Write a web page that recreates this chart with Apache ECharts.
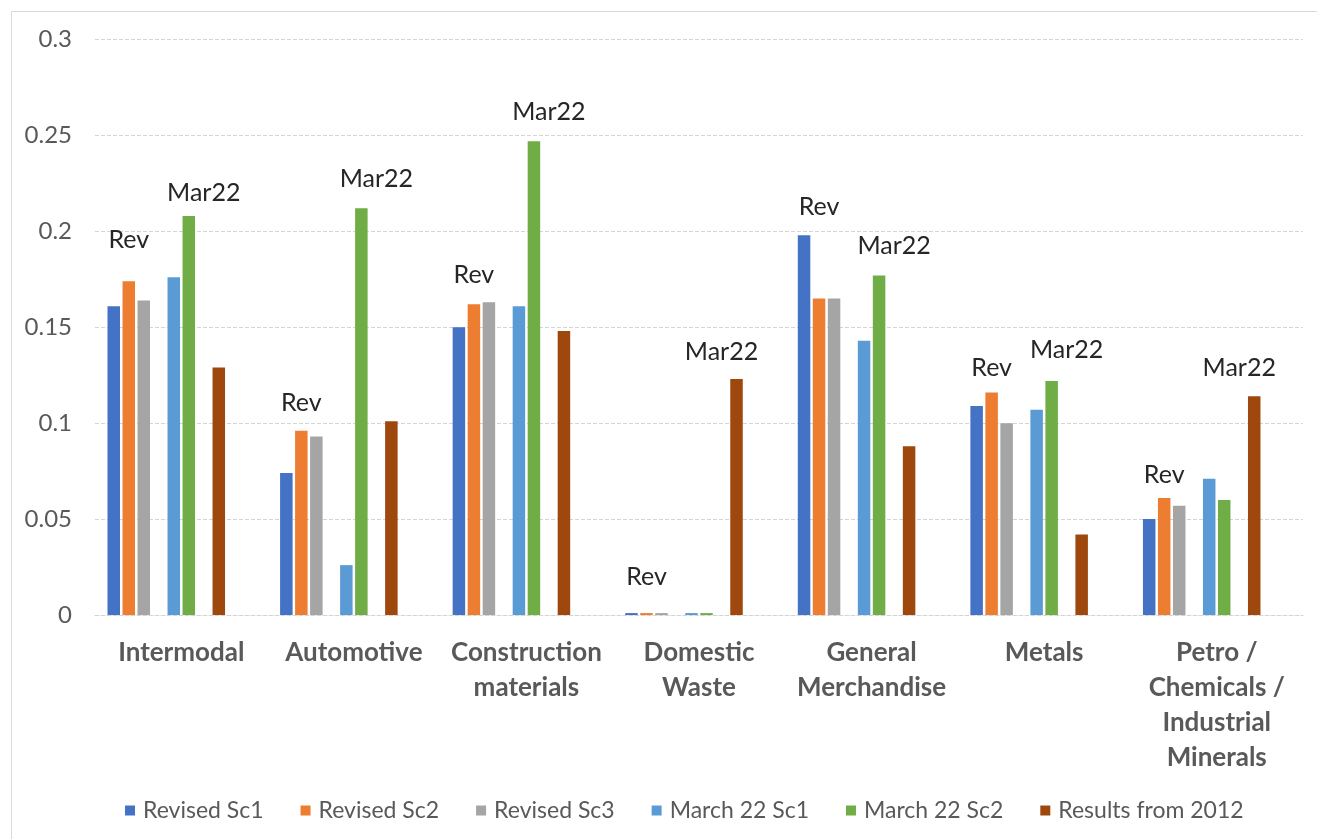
<!DOCTYPE html>
<html>
<head>
<meta charset="utf-8">
<script src="https://cdn.jsdelivr.net/npm/echarts@6/dist/echarts.min.js"></script>
<style>
  html, body { margin: 0; padding: 0; background: #ffffff; }
  #chart { width: 1317px; height: 839px; }
</style>
</head>
<body>
<div id="chart"></div>
<script>
// ---- data ----
var categories = ['Intermodal', 'Automotive', 'Construction materials', 'Domestic Waste',
                  'General Merchandise', 'Metals', 'Petro / Chemicals / Industrial Minerals'];
var categoryLabels = ['Intermodal', 'Automotive', 'Construction\nmaterials', 'Domestic\nWaste',
                      'General\nMerchandise', 'Metals', 'Petro /\nChemicals /\nIndustrial\nMinerals'];
var yTickLabels = ['0', '0.05', '0.1', '0.15', '0.2', '0.25', '0.3'];

var revisedSc1   = [0.161, 0.074, 0.150, 0.001, 0.198, 0.109, 0.050];
var revisedSc2   = [0.174, 0.096, 0.162, 0.001, 0.165, 0.116, 0.061];
var revisedSc3   = [0.164, 0.093, 0.163, 0.001, 0.165, 0.100, 0.057];
var march22Sc1   = [0.176, 0.026, 0.161, 0.001, 0.143, 0.107, 0.071];
var march22Sc2   = [0.208, 0.212, 0.247, 0.001, 0.177, 0.122, 0.060];
var results2012  = [0.129, 0.101, 0.148, 0.123, 0.088, 0.042, 0.114];

// annotation text and the value at which each annotation is centred
var revText = 'Rev';
var marText = 'Mar22';
var revLabelAt = [0.1955, 0.1107, 0.1773, 0.0198, 0.2129, 0.1286, 0.0730];
var marLabelAt = [0.2202, 0.2272, 0.2623, 0.1370, 0.1924, 0.1382, 0.1286];

var seriesNames = ['Revised Sc1', 'Revised Sc2', 'Revised Sc3', 'March 22 Sc1', 'March 22 Sc2', 'Results from 2012'];
var seriesColors = ['#4472C4', '#ED7D31', '#A5A5A5', '#5B9BD5', '#70AD47', '#9E480E'];

// ---- chart ----
var chart = echarts.init(document.getElementById('chart'), null, { renderer: 'canvas' });

var FONT = 'Lato, "Open Sans", sans-serif';
var gridLine = { color: '#d4d4d4', width: 1, type: [4, 2] };

function annot(text, arr) {
  return {
    symbol: 'circle',
    symbolSize: 1,
    itemStyle: { color: 'rgba(0,0,0,0)' },
    label: {
      show: true,
      position: 'inside',
      formatter: text,
      color: '#262626',
      fontFamily: FONT,
      fontSize: 25
    },
    data: arr.map(function (v, i) { return { coord: [i, v] }; })
  };
}

function barSeries(name, data, color, extra) {
  var s = {
    name: name,
    type: 'bar',
    data: data,
    barGap: '20%',
    barCategoryGap: '14.5%',
    itemStyle: { color: color },
    emphasis: { disabled: true }
  };
  if (extra) { for (var k in extra) s[k] = extra[k]; }
  return s;
}

function blank(name, extra) {
  return barSeries(name, categories.map(function () { return null; }), 'rgba(0,0,0,0)', extra);
}

var option = {
  animation: false,
  backgroundColor: '#ffffff',
  textStyle: { fontFamily: FONT },
  graphic: [{
    type: 'rect',
    silent: true,
    shape: { x: 11.5, y: 11.5, width: 1400, height: 1000 },
    style: { fill: 'none', stroke: '#d9d9d9', lineWidth: 1 }
  }],
  grid: { left: 95, right: 14, top: 39.5, bottom: 224, containLabel: false },
  legend: {
    data: seriesNames,
    left: 120,
    top: 794,
    itemWidth: 10,
    itemHeight: 10,
    itemGap: 37,
    icon: 'rect',
    textStyle: { color: '#595959', fontSize: 23, fontFamily: FONT, padding: [0, 0, 0, 3] }
  },
  xAxis: {
    type: 'category',
    data: categories,
    axisTick: { show: false },
    axisLine: { show: true, lineStyle: gridLine },
    axisLabel: {
      interval: 0,
      margin: 20,
      color: '#595959',
      fontWeight: 'bold',
      fontSize: 26,
      lineHeight: 35,
      fontFamily: FONT,
      formatter: function (v, i) { return categoryLabels[i]; }
    }
  },
  yAxis: {
    type: 'value',
    min: 0,
    max: 0.3,
    interval: 0.05,
    axisLine: { show: false },
    axisTick: { show: false },
    splitLine: { show: true, lineStyle: gridLine },
    axisLabel: {
      margin: 23,
      color: '#595959',
      fontSize: 24,
      fontFamily: FONT,
      formatter: function (v, i) { return yTickLabels[i]; }
    }
  },
  series: [
    barSeries(seriesNames[0], revisedSc1, seriesColors[0]),
    barSeries(seriesNames[1], revisedSc2, seriesColors[1], { markPoint: annot(revText, revLabelAt) }),
    barSeries(seriesNames[2], revisedSc3, seriesColors[2]),
    blank('_gap1'),
    barSeries(seriesNames[3], march22Sc1, seriesColors[3]),
    barSeries(seriesNames[4], march22Sc2, seriesColors[4]),
    blank('_gap2', { markPoint: annot(marText, marLabelAt) }),
    barSeries(seriesNames[5], results2012, seriesColors[5]),
    blank('_gap3'),
    blank('_gap4')
  ]
};

chart.setOption(option);
</script>
</body>
</html>
